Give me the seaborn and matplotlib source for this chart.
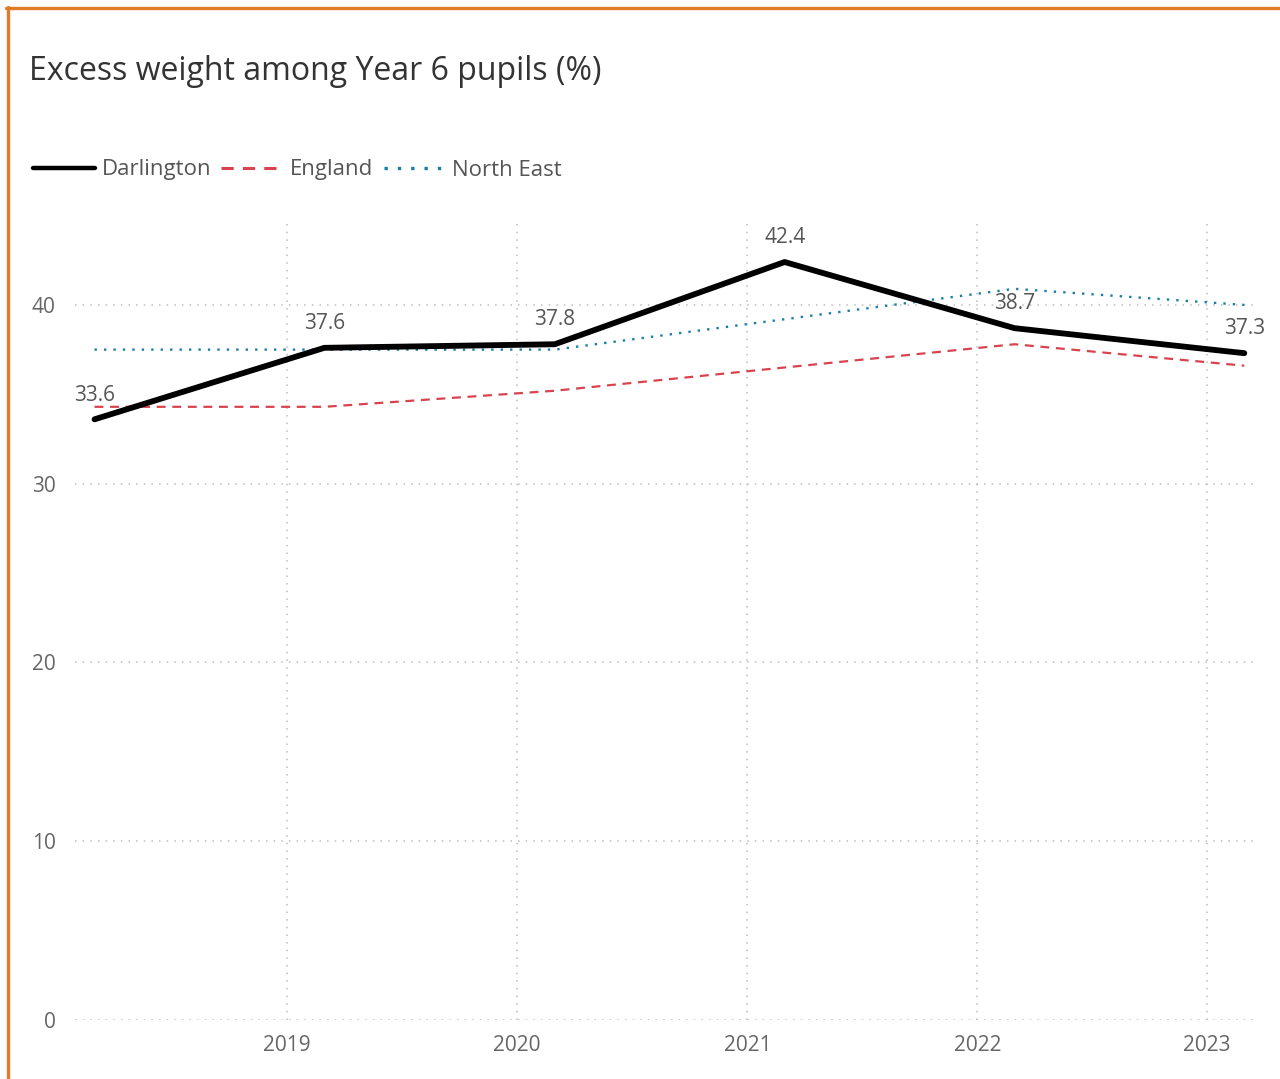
import numpy as np
import pandas as pd
import matplotlib
matplotlib.use("Agg")
import matplotlib.pyplot as plt
import matplotlib.dates as mdates
from matplotlib.lines import Line2D
import seaborn as sns

# ---- data ----
dates = ["2018-03-01", "2019-03-01", "2020-03-01", "2021-03-01", "2022-03-01", "2023-03-01"]
darlington = [33.6, 37.6, 37.8, 42.4, 38.7, 37.3]
england = [34.3, 34.3, 35.2, np.nan, 37.8, 36.6]
north_east = [37.5, 37.5, 37.5, np.nan, 40.9, 40.0]
series_names = ["Darlington", "England", "North East"]
title = "Excess weight among Year 6 pupils (%)"
y_ticks = [0, 10, 20, 30, 40]

sns.set_theme(style="white")
plt.rcParams['font.family'] = ['Open Sans', 'DejaVu Sans']

df = pd.DataFrame({
    "date": pd.to_datetime(dates * 3),
    "value": darlington + england + north_east,
    "series": [series_names[0]] * 6 + [series_names[1]] * 6 + [series_names[2]] * 6,
})
df_plot = df.dropna()

fig = plt.figure(figsize=(12.8, 10.79), dpi=100)
ax = fig.add_axes([75/1280, 1 - 1020/1079, (1255-75)/1280, (1020-220)/1079])

colors = {"Darlington": "#000000", "England": "#D9434E", "North East": "#1A7FA6"}
styles = {"Darlington": "-", "England": (0, (4, 3)), "North East": (0, (1, 3))}
widths = {"Darlington": 4.2, "England": 1.6, "North East": 1.7}

for name in ["England", "North East", "Darlington"]:
    sub = df_plot[df_plot["series"] == name]
    sns.lineplot(data=sub, x="date", y="value", ax=ax, color=colors[name],
                 linewidth=widths[name], linestyle=styles[name], legend=False,
                 solid_capstyle="round", zorder=3 if name == "Darlington" else 2)

# data labels for Darlington
dsub = df[df["series"] == "Darlington"]
for d, v in zip(dsub["date"], dsub["value"]):
    ax.annotate(f"{v:.1f}", xy=(d, v), xytext=(0, 17.5), textcoords="offset points",
                ha="center", va="center", fontsize=15, color="#555555", zorder=4)

ax.set_ylim(0, 44.75)
ax.set_xlim(pd.Timestamp("2018-01-29"), pd.Timestamp("2023-03-18"))
ax.set_yticks(y_ticks)
ax.xaxis.set_major_locator(mdates.YearLocator())
ax.xaxis.set_major_formatter(mdates.DateFormatter("%Y"))
ax.set_xlabel("")
ax.set_ylabel("")
for s in ax.spines.values():
    s.set_visible(False)
ax.grid(True, color="#BDBDBD", linestyle=(0, (1, 4)), linewidth=1.1)
ax.tick_params(axis="both", length=0, labelsize=15, labelcolor="#666666")
ax.tick_params(axis="y", pad=14)
ax.tick_params(axis="x", pad=11)

fig.text(29/1280, 1 - 71/1079, title, fontsize=23, color="#333333", va="center", ha="left")

handles = [Line2D([0], [0], color=colors[n], linestyle=styles[n], linewidth=w)
           for n, w in zip(series_names, [3.2, 2.2, 2.4])]
leg = fig.legend(handles, series_names, loc="center left", bbox_to_anchor=(24/1280, 1 - 170/1079),
                 ncol=3, frameon=False, fontsize=16, handlelength=2.8, handletextpad=0.3,
                 columnspacing=0.45, labelcolor="#555555", borderaxespad=0)

# orange border
fig.add_artist(Line2D([6/1280, 1], [1 - 8/1079, 1 - 8/1079], color="#E07B28", linewidth=2.4, transform=fig.transFigure))
fig.add_artist(Line2D([7.5/1280, 7.5/1280], [0, 1 - 7/1079], color="#E07B28", linewidth=2.4, transform=fig.transFigure))

fig.savefig("out.png", dpi=100)
